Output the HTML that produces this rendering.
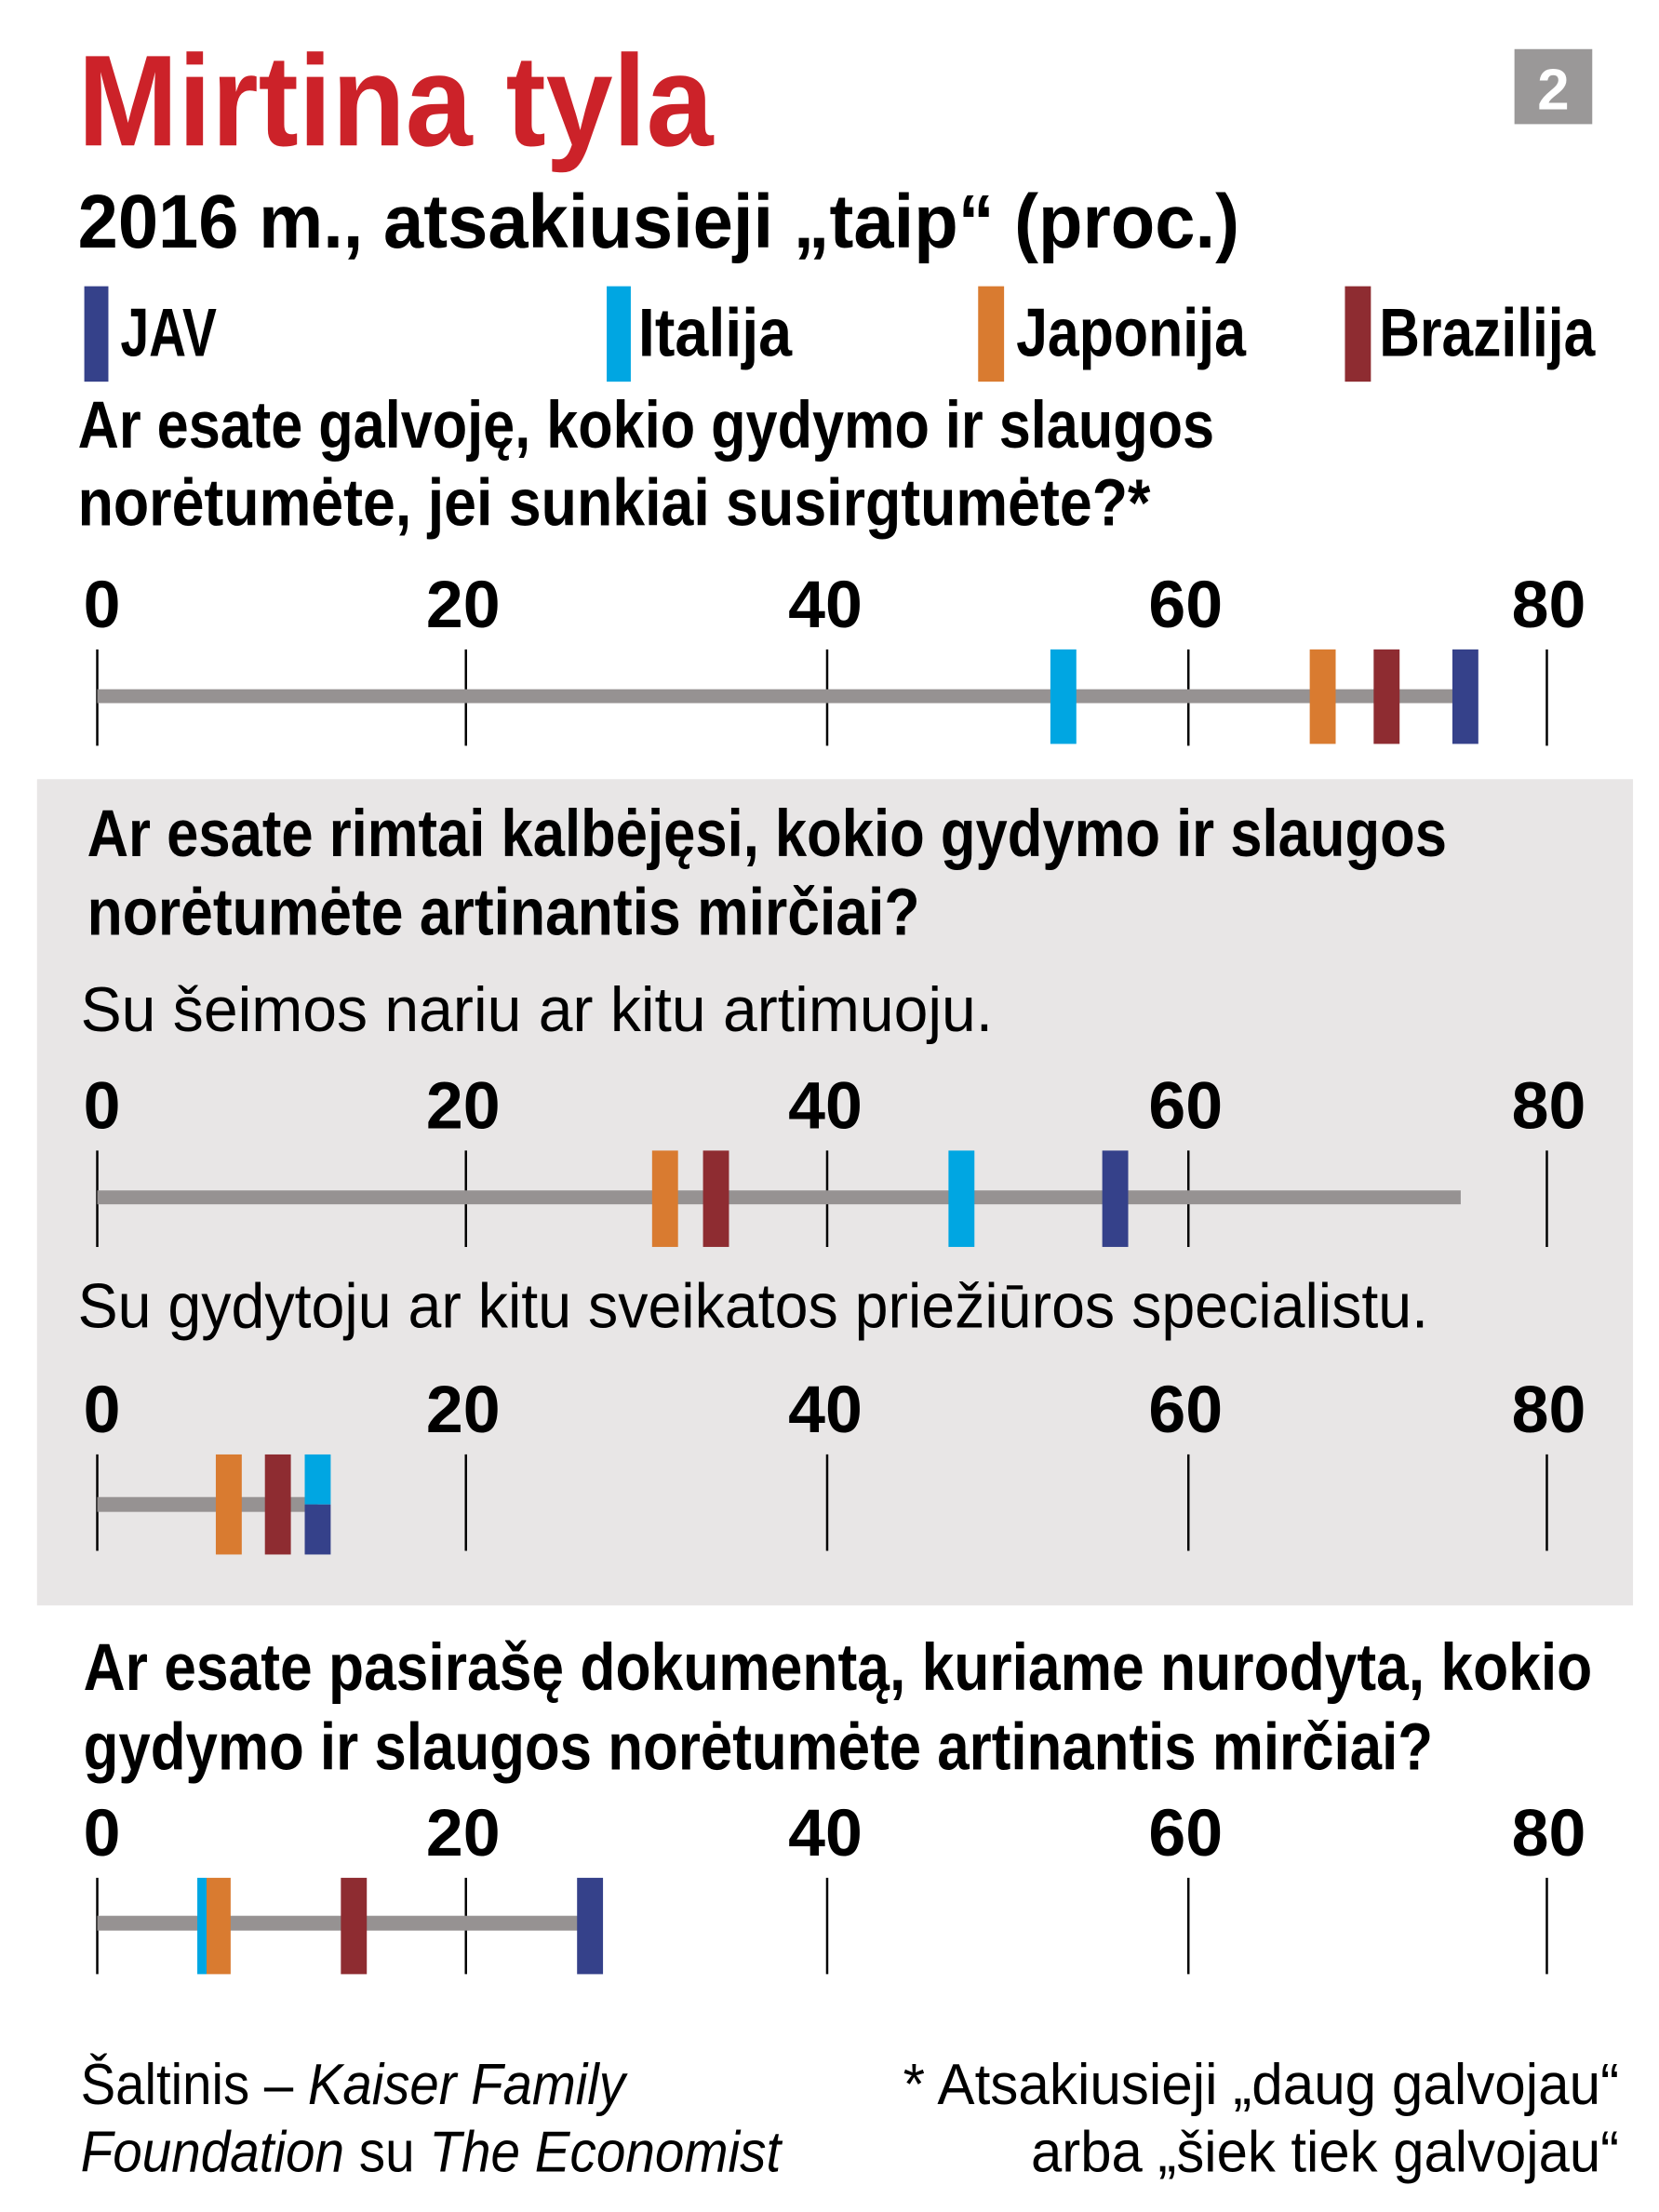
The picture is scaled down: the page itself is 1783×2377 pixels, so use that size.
<!DOCTYPE html>
<html><head><meta charset="utf-8"><style>html,body{margin:0;padding:0;background:#fff}svg{display:block}</style></head>
<body>
<svg width="1783" height="2377" viewBox="0 0 1783 2377" xmlns="http://www.w3.org/2000/svg" font-family="Liberation Sans, sans-serif">
<defs>
<g id="ax">
<g stroke="#000" stroke-width="2.5"><line x1="105" y1="0" x2="105" y2="104"/><line x1="503" y1="0" x2="503" y2="104"/><line x1="893" y1="0" x2="893" y2="104"/><line x1="1283" y1="0" x2="1283" y2="104"/><line x1="1670" y1="0" x2="1670" y2="104"/></g>
<g font-size="72" font-weight="bold" text-anchor="middle"><text x="110" y="-24">0</text><text x="500" y="-24">20</text><text x="891" y="-24">40</text><text x="1280" y="-24">60</text><text x="1672" y="-24">80</text></g>
</g>
</defs>
<g transform="scale(0.9955)">
<text x="84" y="157" font-size="140" font-weight="bold" fill="#cc2229" textLength="686" lengthAdjust="spacingAndGlyphs">Mirtina tyla</text>
<rect x="1635" y="53" width="84" height="81" fill="#9a9898"/>
<text x="1677" y="118" font-size="62" font-weight="bold" fill="#fff" text-anchor="middle">2</text>
<text x="84" y="267" font-size="82" font-weight="bold" textLength="1254" lengthAdjust="spacingAndGlyphs">2016 m., atsakiusieji „taip“ (proc.)</text>
<rect x="91" y="309" width="26" height="103" fill="#35418a"/>
<text x="130" y="384" font-size="74" font-weight="bold" textLength="104" lengthAdjust="spacingAndGlyphs">JAV</text>
<rect x="655" y="309" width="26" height="103" fill="#00a6e2"/>
<text x="689" y="384" font-size="74" font-weight="bold" textLength="166" lengthAdjust="spacingAndGlyphs">Italija</text>
<rect x="1056" y="309" width="28" height="103" fill="#d97b30"/>
<text x="1097" y="384" font-size="74" font-weight="bold" textLength="248" lengthAdjust="spacingAndGlyphs">Japonija</text>
<rect x="1452" y="309" width="28" height="103" fill="#8e2c31"/>
<text x="1489" y="384" font-size="74" font-weight="bold" textLength="233" lengthAdjust="spacingAndGlyphs">Brazilija</text>

<g font-size="72" font-weight="bold">
<text x="84" y="483" textLength="1227" lengthAdjust="spacingAndGlyphs">Ar esate galvoję, kokio gydymo ir slaugos</text>
<text x="84" y="567" textLength="1158" lengthAdjust="spacingAndGlyphs">norėtumėte, jei sunkiai susirgtumėte?*</text>
</g>
<use href="#ax" transform="translate(0,701)"/>
<rect x="105" y="744" width="1477" height="15" fill="#969292"/>
<rect x="1134" y="701" width="28" height="102" fill="#00a6e2"/>
<rect x="1414" y="701" width="28" height="102" fill="#d97b30"/>
<rect x="1483" y="701" width="28" height="102" fill="#8e2c31"/>
<rect x="1568" y="701" width="28" height="102" fill="#35418a"/>

<rect x="40" y="841" width="1723" height="892" fill="#e8e6e6"/>
<g font-size="72" font-weight="bold">
<text x="94" y="924" textLength="1468" lengthAdjust="spacingAndGlyphs">Ar esate rimtai kalbėjęsi, kokio gydymo ir slaugos</text>
<text x="94" y="1009" textLength="899" lengthAdjust="spacingAndGlyphs">norėtumėte artinantis mirčiai?</text>
</g>
<text x="87" y="1113" font-size="68" textLength="985" lengthAdjust="spacingAndGlyphs">Su šeimos nariu ar kitu artimuoju.</text>
<use href="#ax" transform="translate(0,1242)"/>
<rect x="105" y="1285" width="1472" height="15" fill="#969292"/>
<rect x="704" y="1242" width="28" height="104" fill="#d97b30"/>
<rect x="759" y="1242" width="28" height="104" fill="#8e2c31"/>
<rect x="1024" y="1242" width="28" height="104" fill="#00a6e2"/>
<rect x="1190" y="1242" width="28" height="104" fill="#35418a"/>
<text x="84" y="1433" font-size="68" textLength="1458" lengthAdjust="spacingAndGlyphs">Su gydytoju ar kitu sveikatos priežiūros specialistu.</text>
<use href="#ax" transform="translate(0,1570)"/>
<rect x="105" y="1616" width="238" height="16" fill="#969292"/>
<rect x="233" y="1570" width="28" height="108" fill="#d97b30"/>
<rect x="286" y="1570" width="28" height="108" fill="#8e2c31"/>
<rect x="329" y="1570" width="28" height="54" fill="#00a6e2"/>
<rect x="329" y="1624" width="28" height="54" fill="#35418a"/>

<g font-size="72" font-weight="bold">
<text x="90" y="1824" textLength="1629" lengthAdjust="spacingAndGlyphs">Ar esate pasirašę dokumentą, kuriame nurodyta, kokio</text>
<text x="90" y="1910" textLength="1457" lengthAdjust="spacingAndGlyphs">gydymo ir slaugos norėtumėte artinantis mirčiai?</text>
</g>
<use href="#ax" transform="translate(0,2027)"/>
<rect x="105" y="2068" width="532" height="16" fill="#969292"/>
<rect x="213" y="2027" width="10" height="104" fill="#00a6e2"/>
<rect x="223" y="2027" width="26" height="104" fill="#d97b30"/>
<rect x="368" y="2027" width="28" height="104" fill="#8e2c31"/>
<rect x="623" y="2027" width="28" height="104" fill="#35418a"/>

<g font-size="62">
<text x="87" y="2271" textLength="588" lengthAdjust="spacingAndGlyphs">Šaltinis – <tspan font-style="italic">Kaiser Family</tspan></text>
<text x="87" y="2344" textLength="756" lengthAdjust="spacingAndGlyphs"><tspan font-style="italic">Foundation</tspan> su <tspan font-style="italic">The Economist</tspan></text>
<text x="975" y="2271" textLength="773" lengthAdjust="spacingAndGlyphs">* Atsakiusieji „daug galvojau“</text>
<text x="1113" y="2344" textLength="635" lengthAdjust="spacingAndGlyphs">arba „šiek tiek galvojau“</text>
</g>
</g>
</svg>
</body></html>
